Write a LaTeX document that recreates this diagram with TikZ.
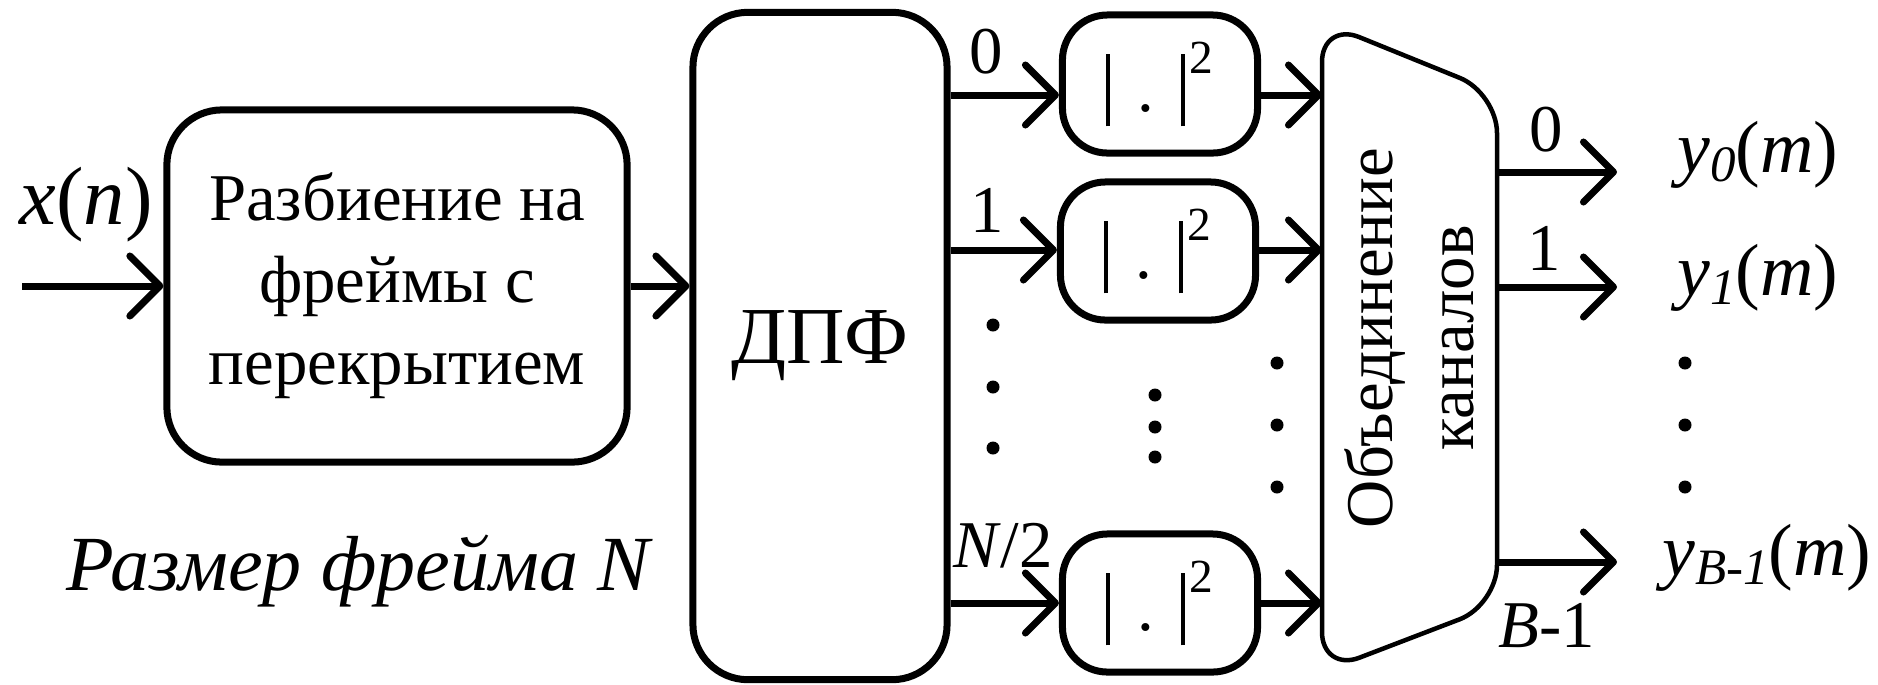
\documentclass[tikz,border=0pt]{standalone}
\usepackage{fontspec}
\setmainfont{Liberation Serif}
\usetikzlibrary{arrows.meta,positioning,calc}

\newcommand{\absq}{\rule[-0.22em]{0.06em}{1.09em}\hspace{0.4em}.\hspace{0.4em}\rule[-0.22em]{0.06em}{1.09em}\hspace{0.08em}\raisebox{11pt}{\fontsize{13.5}{13.5}\selectfont 2}}
\newcommand{\youtlab}[1]{\textit{y}\raisebox{-2.8pt}{\fontsize{14.5}{14.5}\selectfont\textit{#1}}(\textit{m})}

\tikzset{
  blk/.style={draw, line width=0.7mm, rounded corners=5.5mm, inner sep=0pt, align=center},
  sqbox/.style={draw, line width=0.7mm, rounded corners=4.5mm, minimum width=1.95cm, minimum height=1.38cm, inner sep=0pt},
  sig/.style={line width=0.7mm, -{Straight Barb[length=3mm,width=6mm,round]}},
}

\begin{document}
\begin{tikzpicture}[x=0.01cm, y=-0.01cm, font=\fontsize{19}{23.3}\selectfont]
  \useasboundingbox (0,0) rectangle (1878,684);

  % framing and DFT
  \node[blk, minimum width=4.6cm, minimum height=3.52cm] (frm) at (397,286) {Разбиение на\\фреймы с\\перекрытием};
  \node[blk, minimum width=2.54cm, minimum height=6.67cm, font=\fontsize{23}{27}\selectfont] (dft) at (820,346) {ДПФ};

  % squarers
  \node[sqbox] (sq0) at (1160,84) {\absq};
  \node[sqbox] (sq1) at (1158,251) {\absq};
  \node[sqbox] (sq2) at (1160,603) {\absq};

  % channel merger
  \draw[line width=0.45mm, rounded corners=4mm] (1322,672) -- (1322,22) -- (1497,93) -- (1497,605) -- cycle;
  \coordinate (mgL) at (1322,346);
  \coordinate (mgR) at (1497,346);
  \node[rotate=90, align=center, font=\fontsize{19}{23}\selectfont] (mgtxt) at (1409,338) {Объединение\\каналов};

  % branch heights
  \coordinate (r0) at (0,95);
  \coordinate (r1) at (0,250);
  \coordinate (r2) at (0,603);

  % input
  \coordinate (xin) at (22,286);
  \draw[sig] (xin) -- (frm.west);
  \node[font=\fontsize{23.5}{23.5}\selectfont] (xlab) at (86,205) {\textit{x}(\textit{n})};
  \draw[sig] (frm.east) -- (frm.east -| dft.west);
  \node[anchor=base, font=\fontsize{22.2}{22.2}\selectfont\itshape] (fsz) at (358,590) {Размер фрейма N};

  % branches
  \foreach \i in {0,1,2} {
    \draw[sig] (dft.east |- r\i) -- (sq\i.west |- r\i);
    \draw[sig] (sq\i.east |- r\i) -- (mgL |- r\i);
  }
  \node (l0) at (986,52) {0};
  \node (l1) at (987,210) {1};
  \node (l2) at (1003,546) {\textit{N}/2};

  % outputs
  \coordinate (o0) at (1617,172);
  \coordinate (o1) at (1617,287);
  \coordinate (o2) at (1617,562);
  \foreach \i in {0,1,2}
    \draw[sig] (mgR |- o\i) -- (o\i);
  \node (k0) at (1546,130) {0};
  \node (k1) at (1544,248) {1};
  \node (kB) at (1547,626) {\textit{B}-1};
  \node[anchor=base west, font=\fontsize{21}{21}\selectfont] (y0) at (1665,172) {\youtlab{0}};
  \node[anchor=base west, font=\fontsize{21}{21}\selectfont] (y1) at (1665,295) {\youtlab{1}};
  \node[anchor=base east, inner sep=0pt, font=\fontsize{21}{21}\selectfont] (yB) at (1872,575) {\youtlab{B-1}};

  % dots
  \foreach \y in {325,387,448} \fill (993,\y) circle[radius=0.65mm];
  \foreach \y in {395,427,457} \fill (1155,\y) circle[radius=0.65mm];
  \foreach \y in {363,425,487} \fill (1277,\y) circle[radius=0.65mm];
  \foreach \y in {363,425,487} \fill (1685,\y) circle[radius=0.65mm];
\end{tikzpicture}
\end{document}
